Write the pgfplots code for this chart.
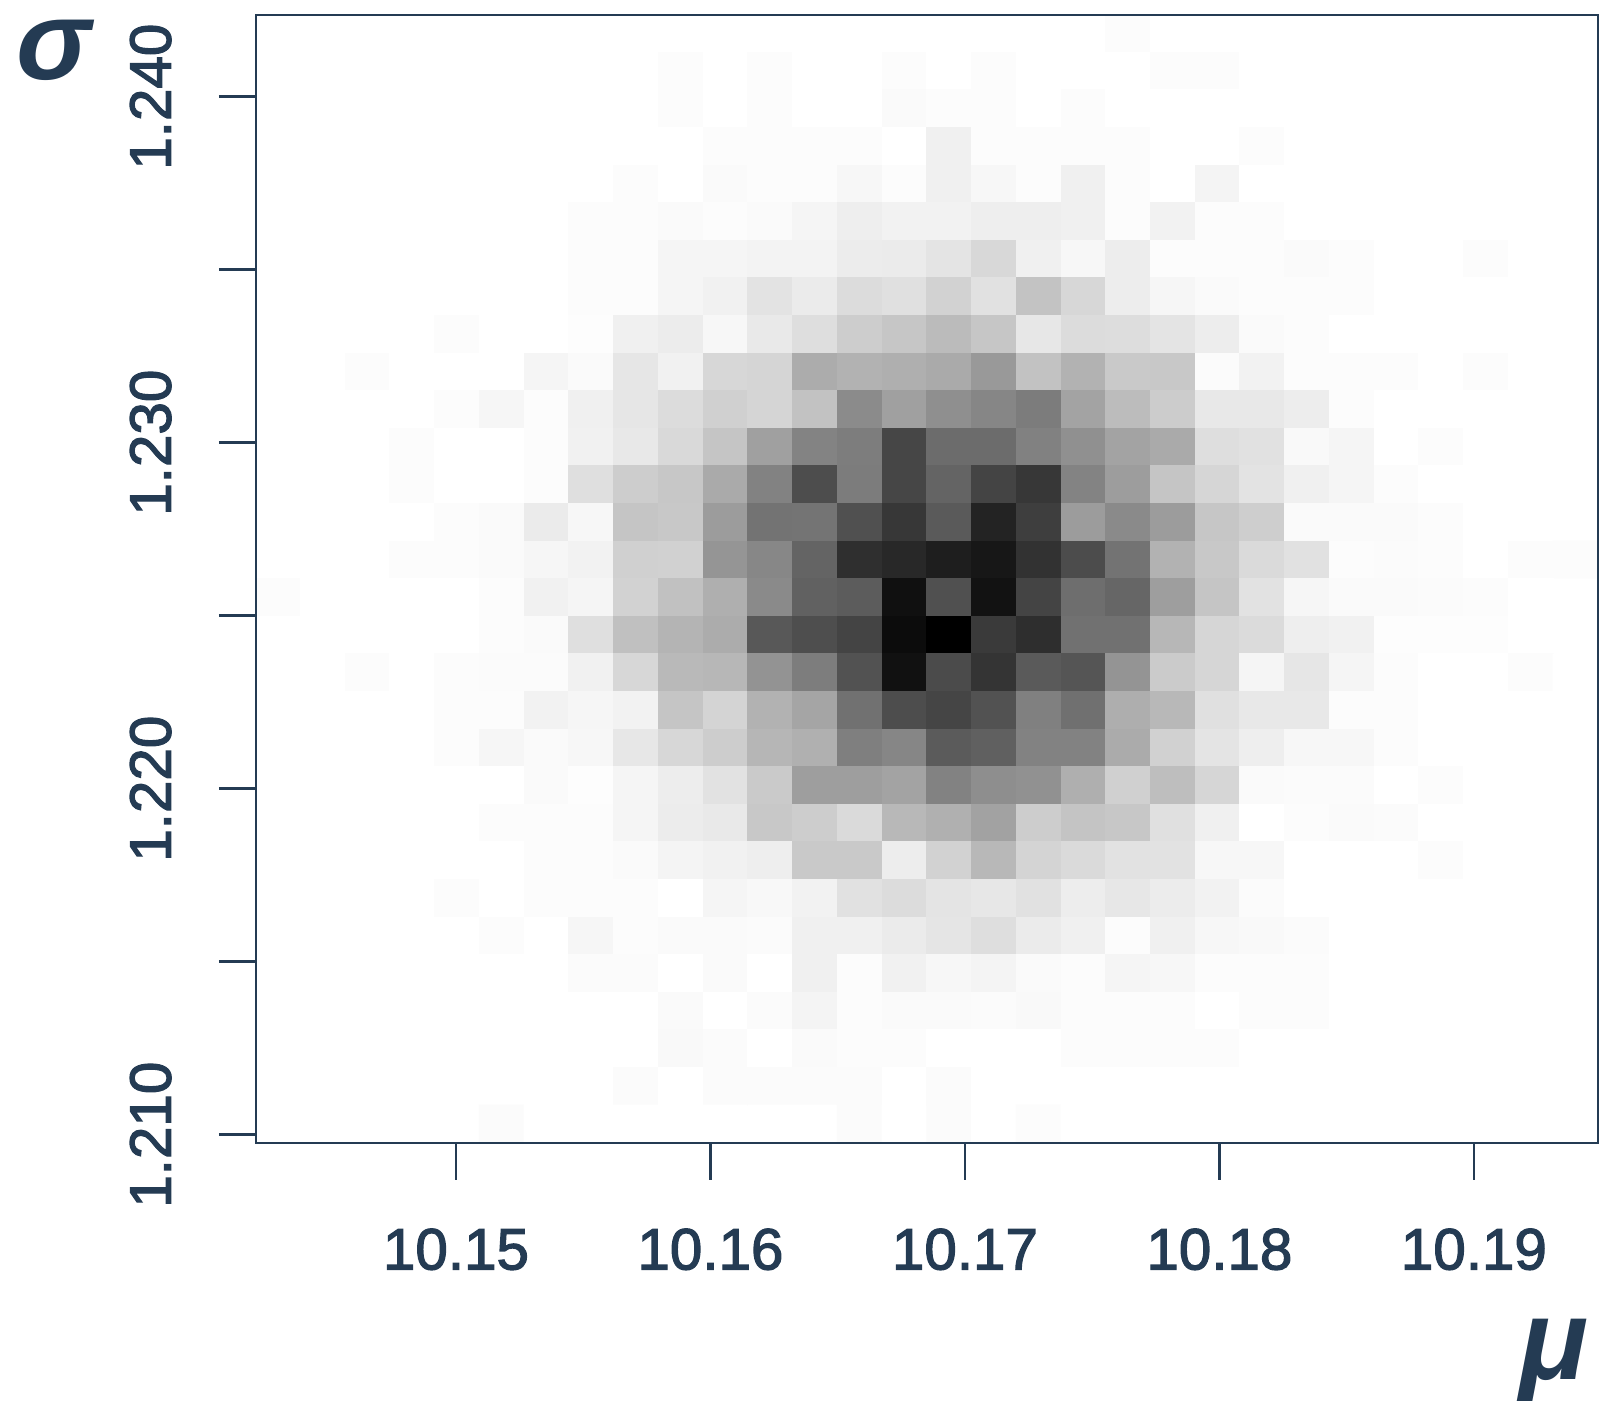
\documentclass[border=0pt]{standalone}
\usepackage{fontspec}
\setmainfont{Liberation Sans}
\usepackage{pgfplots}
\pgfplotsset{compat=1.18}
\definecolor{ink}{HTML}{243B53}
% tick numbers are a medium weight: fill and stroke the glyphs
\newcommand\med[1]{\special{pdf:code q 2 Tr 0.35 w}#1\special{pdf:code Q}}

\begin{document}
\begin{tikzpicture}
\useasboundingbox (-2.56,-2.58) rectangle (13.46,11.43);
\begin{axis}[
    scale only axis,
    width=13.42cm, height=11.28cm,
    xmin=0, xmax=30, ymin=0, ymax=30,
    axis on top,
    axis line style={ink, line width=0.6pt},
    tick align=outside, tick pos=left,
    major tick length=0.37cm,
    tick style={ink, line width=0.7pt},
    % axis runs in histogram bins (30 x 30), ticks placed at the mu / sigma values
    xtick={4.47,10.159,15.848,21.537,27.226},
    xticklabels={\med{10.15},\med{10.16},\med{10.17},\med{10.18},\med{10.19}},
    ytick={0.221,4.822,9.423,14.024,18.625,23.226,27.827},
    yticklabels={\med{1.210},,\med{1.220},,\med{1.230},,\med{1.240}},
    xticklabel style={font=\fontsize{16.6}{20}\selectfont, text=ink, anchor=north, inner sep=0pt, yshift=-0.48cm},
    yticklabel style={font=\fontsize{16.6}{20}\selectfont, text=ink, rotate=90, anchor=south, inner sep=0pt, yshift=0.47cm},
    xlabel={μ}, ylabel={σ},
    x label style={at={(axis description cs:0.967,-0.21)}, anchor=base, inner sep=0pt, text=ink, font=\bfseries\itshape\fontsize{32.5}{38}\selectfont},
    y label style={at={(axis description cs:-0.151,0.943)}, rotate=-90, anchor=base, inner sep=0pt, text=ink, font=\bfseries\itshape\fontsize{32}{36}\selectfont},
    % slightly steeper at the light end so the faintest bins stay visible
    colormap={greys}{gray(0cm)=(0); gray(252cm)=(0.987); gray(255cm)=(1)},
    point meta min=0, point meta max=255,
]
% one grey level per bin, rows from the top of the plot, 30 values each
\addplot[matrix plot*, mesh/cols=30, point meta=explicit] table[
    row sep=crcr, header=false,
    x expr={\coordindex-30*floor((\coordindex+0.5)/30)+0.5},
    y expr={29.5-floor((\coordindex+0.5)/30)},
    meta index=0] {
255\\255\\255\\255\\255\\255\\255\\255\\255\\255\\255\\255\\255\\255\\255\\255\\255\\255\\255\\252\\255\\255\\255\\255\\255\\255\\255\\255\\255\\255\\
255\\255\\255\\255\\255\\255\\255\\255\\255\\252\\255\\252\\255\\255\\252\\255\\252\\255\\255\\255\\252\\252\\255\\255\\255\\255\\255\\255\\255\\255\\
255\\255\\255\\255\\255\\255\\255\\255\\255\\252\\255\\252\\255\\255\\250\\252\\252\\255\\252\\255\\255\\255\\255\\255\\255\\255\\255\\255\\255\\255\\
255\\255\\255\\255\\255\\255\\255\\255\\255\\255\\252\\252\\252\\252\\255\\240\\252\\252\\252\\252\\255\\255\\252\\255\\255\\255\\255\\255\\255\\255\\
255\\255\\255\\255\\255\\255\\255\\255\\252\\255\\250\\252\\252\\247\\252\\240\\247\\252\\240\\252\\255\\244\\255\\255\\255\\255\\255\\255\\255\\255\\
255\\255\\255\\255\\255\\255\\255\\252\\252\\250\\252\\250\\245\\238\\242\\242\\238\\238\\240\\252\\242\\252\\252\\255\\255\\255\\255\\255\\255\\255\\
255\\255\\255\\255\\255\\255\\255\\252\\252\\245\\245\\243\\243\\236\\235\\228\\216\\240\\247\\237\\252\\252\\252\\250\\252\\255\\255\\252\\255\\255\\
255\\255\\255\\255\\255\\255\\255\\252\\252\\245\\241\\227\\235\\220\\224\\210\\225\\195\\215\\237\\246\\250\\252\\252\\252\\255\\255\\255\\255\\255\\
255\\255\\255\\255\\252\\255\\255\\253\\240\\236\\247\\233\\222\\205\\198\\187\\198\\231\\220\\221\\228\\237\\250\\252\\255\\255\\255\\255\\255\\255\\
255\\255\\252\\255\\255\\255\\245\\250\\230\\241\\215\\213\\172\\178\\175\\170\\153\\194\\178\\201\\200\\251\\242\\252\\252\\252\\255\\252\\255\\255\\
255\\255\\255\\255\\252\\246\\252\\240\\230\\220\\208\\213\\194\\139\\160\\143\\134\\124\\163\\188\\204\\232\\232\\237\\252\\255\\255\\255\\255\\255\\
255\\255\\255\\252\\255\\255\\252\\241\\232\\217\\197\\160\\131\\125\\070\\108\\108\\129\\144\\163\\170\\222\\225\\249\\245\\255\\252\\255\\255\\255\\
255\\255\\255\\252\\255\\255\\252\\223\\205\\199\\170\\130\\077\\124\\070\\100\\068\\055\\131\\157\\197\\214\\227\\240\\245\\252\\255\\255\\255\\255\\
255\\255\\255\\255\\252\\250\\235\\247\\197\\200\\156\\115\\116\\080\\055\\090\\035\\062\\156\\138\\156\\198\\206\\250\\250\\250\\252\\255\\255\\255\\
255\\255\\255\\252\\252\\250\\246\\242\\208\\209\\149\\135\\100\\047\\040\\030\\023\\050\\076\\115\\178\\200\\218\\225\\252\\251\\252\\255\\252\\252\\
252\\255\\255\\255\\255\\252\\241\\245\\210\\193\\175\\138\\097\\092\\016\\080\\018\\068\\110\\102\\158\\197\\226\\246\\250\\250\\251\\252\\255\\255\\
255\\255\\255\\255\\255\\252\\250\\223\\192\\180\\172\\088\\078\\068\\012\\000\\058\\046\\113\\113\\183\\214\\219\\238\\241\\253\\253\\253\\255\\255\\
255\\255\\252\\255\\252\\251\\251\\241\\215\\185\\183\\147\\125\\082\\017\\075\\052\\090\\085\\148\\203\\214\\245\\230\\245\\252\\255\\255\\252\\255\\
255\\255\\255\\255\\252\\252\\242\\246\\242\\197\\212\\178\\165\\113\\077\\069\\082\\128\\112\\174\\184\\224\\232\\232\\252\\252\\255\\255\\255\\255\\
255\\255\\255\\255\\252\\246\\250\\247\\231\\215\\205\\182\\176\\127\\134\\091\\096\\130\\130\\171\\209\\228\\238\\247\\247\\252\\255\\255\\255\\255\\
255\\255\\255\\255\\255\\255\\250\\253\\245\\237\\226\\202\\158\\158\\163\\130\\142\\145\\175\\208\\190\\214\\250\\251\\251\\255\\252\\255\\255\\255\\
255\\255\\255\\255\\255\\252\\252\\252\\245\\236\\233\\200\\205\\218\\184\\176\\162\\205\\196\\199\\224\\240\\255\\252\\250\\251\\255\\255\\255\\255\\
255\\255\\255\\255\\255\\255\\252\\252\\250\\244\\241\\238\\201\\201\\237\\210\\184\\212\\218\\226\\226\\247\\247\\255\\255\\255\\252\\255\\255\\255\\
255\\255\\255\\255\\252\\255\\252\\252\\252\\255\\245\\248\\242\\225\\220\\228\\231\\225\\237\\231\\236\\242\\251\\255\\255\\255\\255\\255\\255\\255\\
255\\255\\255\\255\\255\\252\\255\\246\\252\\250\\250\\251\\240\\240\\235\\229\\222\\235\\240\\252\\240\\247\\249\\251\\255\\255\\255\\255\\255\\255\\
255\\255\\255\\255\\255\\255\\255\\251\\251\\255\\250\\255\\240\\252\\241\\247\\244\\250\\252\\245\\247\\252\\252\\252\\255\\255\\255\\255\\255\\255\\
255\\255\\255\\255\\255\\255\\255\\255\\255\\250\\255\\251\\244\\252\\250\\250\\251\\249\\252\\252\\252\\255\\252\\252\\255\\255\\255\\255\\255\\255\\
255\\255\\255\\255\\255\\255\\255\\255\\255\\249\\251\\255\\250\\252\\252\\255\\255\\255\\252\\252\\252\\252\\255\\255\\255\\255\\255\\255\\255\\255\\
255\\255\\255\\255\\255\\255\\255\\255\\251\\255\\251\\251\\251\\251\\255\\251\\255\\255\\255\\255\\255\\255\\255\\255\\255\\255\\255\\255\\255\\255\\
255\\255\\255\\255\\255\\251\\255\\255\\255\\255\\255\\255\\255\\251\\255\\251\\255\\252\\255\\255\\255\\255\\255\\255\\255\\255\\255\\255\\255\\255\\
};
\end{axis}
\end{tikzpicture}
\end{document}
